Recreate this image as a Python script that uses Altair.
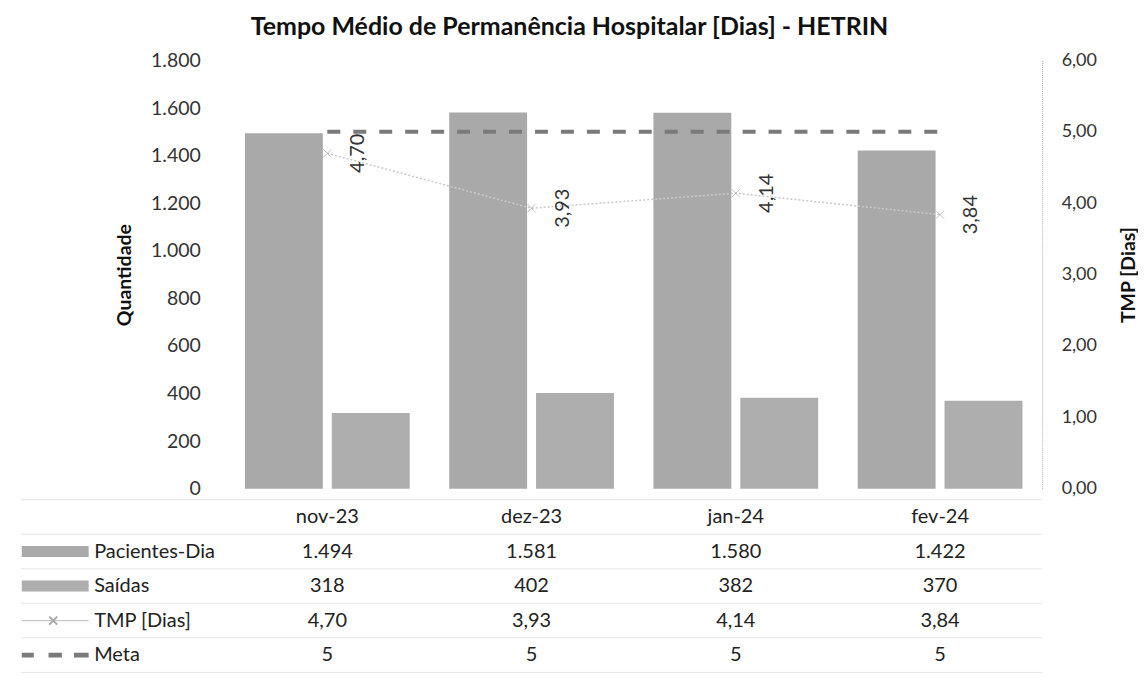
import altair as alt
import pandas as pd

# ---------------- data ----------------
months = ["nov-23", "dez-23", "jan-24", "fev-24"]
pacientes_dia = [1494, 1581, 1580, 1422]
saidas = [318, 402, 382, 370]
tmp = [4.70, 3.93, 4.14, 3.84]
meta = [5, 5, 5, 5]
series = ["Pacientes-Dia", "Saídas"]
row_names = ["Pacientes-Dia", "Saídas", "TMP [Dias]", "Meta"]
left_ticks = [0, 200, 400, 600, 800, 1000, 1200, 1400, 1600, 1800]
right_ticks = [0, 1, 2, 3, 4, 5, 6]

LEG = " "
x_domain = [LEG] + months
rows_domain = ["hdr"] + row_names


def fmt_int(v):
    return f"{v:,}".replace(",", ".")


def fmt_dec(v):
    return f"{v:.2f}".replace(".", ",")


FONT = "Lato"
W, H = 1023, 613
MAIN_H = 429
TABLE_RANGE = [440, 613]

bars_df = pd.DataFrame({
    "month": months * 2,
    "serie": [series[0]] * len(months) + [series[1]] * len(months),
    "valor": pacientes_dia + saidas,
})
line_df = pd.DataFrame({"month": months, "tmp": tmp, "label": [fmt_dec(v) for v in tmp]})
meta_df = pd.DataFrame({"month": months, "meta": meta})

table_rows = []
for i, m in enumerate(months):
    table_rows.append({"month": m, "row": "hdr", "txt": m})
    table_rows.append({"month": m, "row": "Pacientes-Dia", "txt": fmt_int(pacientes_dia[i])})
    table_rows.append({"month": m, "row": "Saídas", "txt": fmt_int(saidas[i])})
    table_rows.append({"month": m, "row": "TMP [Dias]", "txt": fmt_dec(tmp[i])})
    table_rows.append({"month": m, "row": "Meta", "txt": str(meta[i])})
table_df = pd.DataFrame(table_rows)
legend_df = pd.DataFrame({"month": [LEG] * len(row_names), "row": row_names, "txt": row_names})

xs = alt.Scale(type="band", domain=x_domain, paddingInner=0, paddingOuter=0)
X = alt.X("month:N", scale=xs, axis=None)

# ---------------- bars ----------------
bars = alt.Chart(bars_df).mark_bar().encode(
    x=X,
    xOffset=alt.XOffset("serie:N", scale=alt.Scale(domain=series, paddingInner=0.103, paddingOuter=0.227)),
    y=alt.Y("valor:Q",
            scale=alt.Scale(domain=[0, 1800], range=[MAIN_H, 0], nice=False, zero=True),
            axis=alt.Axis(orient="left", offset=-204.6, values=left_ticks,
                          labelExpr="replace(format(datum.value, ','), ',', '.')",
                          title="Quantidade", domain=False, ticks=False, grid=False,
                          labelPadding=25, labelFontSize=19.5, labelFont=FONT, labelColor="#333333",
                          titleFont=FONT, titleFontSize=19.5, titleFontWeight="bold",
                          titleColor="#111111", titlePadding=16)),
    color=alt.Color("serie:N", scale=alt.Scale(domain=series, range=["#a9a9a9", "#aeaeae"]), legend=None),
)

# ---------------- TMP line + meta ----------------
ytmp_scale = alt.Scale(domain=[0, 6], range=[MAIN_H, 0], nice=False)
tmp_axis = alt.Axis(orient="right", values=right_ticks,
                    labelExpr="replace(format(datum.value, '.2f'), '.', ',')",
                    title="TMP [Dias]", titleAngle=270, titleBaseline="top",
                    domain=True, domainColor="#aaaaaa", domainDash=[1, 1], ticks=False, grid=False,
                    labelPadding=19, labelFontSize=18, labelFont=FONT, labelColor="#333333",
                    titleFont=FONT, titleFontSize=19.5, titleFontWeight="bold", titleColor="#111111",
                    titlePadding=23)

meta_line = alt.Chart(meta_df).mark_line(color="#7a7a7a", strokeWidth=4, strokeDash=[13, 13]).encode(
    x=X, y=alt.Y("meta:Q", scale=ytmp_scale, axis=tmp_axis))
tmp_line = alt.Chart(line_df).mark_line(color="#c8c8c8", strokeWidth=1.5, strokeDash=[2, 2]).encode(
    x=X, y=alt.Y("tmp:Q", scale=ytmp_scale))
xmark = "M-1,-1L1,1M-1,1L1,-1"
tmp_pts = alt.Chart(line_df).mark_point(shape=xmark, size=64, color="#a8a8a8", strokeWidth=1, filled=False).encode(
    x=X, y=alt.Y("tmp:Q", scale=ytmp_scale))
tmp_lbl = alt.Chart(line_df).mark_text(angle=270, dy=31, fontSize=20, font=FONT, color="#333333",
                                       align="center", baseline="middle").encode(
    x=X, y=alt.Y("tmp:Q", scale=ytmp_scale), text="label:N")

tmp_layer = alt.layer(meta_line, tmp_line, tmp_pts, tmp_lbl)

# ---------------- data table ----------------
ys_table = alt.Scale(type="band", domain=rows_domain, range=TABLE_RANGE, paddingInner=0, paddingOuter=0)
YT = alt.Y("row:N", scale=ys_table, axis=None)

grid_df = pd.DataFrame({"row": rows_domain})
grid = alt.Chart(grid_df).mark_rule(color="#e6e6e6", strokeWidth=1).encode(
    y=alt.Y("row:N", scale=ys_table, axis=None, bandPosition=0))
grid_bottom = alt.Chart(pd.DataFrame({"row": ["Meta"]})).mark_rule(color="#e6e6e6", strokeWidth=1).encode(
    y=alt.Y("row:N", scale=ys_table, axis=None, bandPosition=1))

table_txt = alt.Chart(table_df).mark_text(fontSize=20, font=FONT, color="#222222").encode(
    x=X, y=YT, text="txt:N")
legend_txt = alt.Chart(legend_df).mark_text(fontSize=20, font=FONT, color="#222222", align="left", dx=-29).encode(
    x=X, y=YT, text="txt:N")

swatch = "M-1,-0.164L1,-0.164L1,0.164L-1,0.164Z"
dashes = "M-1,-0.07L-0.64,-0.07L-0.64,0.07L-1,0.07ZM-0.2,-0.07L0.2,-0.07L0.2,0.07L-0.2,0.07ZM0.56,-0.07L1,-0.07L1,0.07L0.56,0.07Z"
thin = "M-1,-0.02L1,-0.02L1,0.02L-1,0.02Z"

key_pac = alt.Chart(pd.DataFrame({"month": [LEG], "row": ["Pacientes-Dia"]})).mark_point(
    shape=swatch, size=4489, filled=True, color="#a9a9a9", opacity=1, xOffset=-68).encode(x=X, y=YT)
key_sai = alt.Chart(pd.DataFrame({"month": [LEG], "row": ["Saídas"]})).mark_point(
    shape=swatch, size=4489, filled=True, color="#aeaeae", opacity=1, xOffset=-68).encode(x=X, y=YT)
key_tmp = alt.Chart(pd.DataFrame({"month": [LEG], "row": ["TMP [Dias]"]})).mark_point(
    shape=thin, size=4489, filled=True, color="#c8c8c8", opacity=1, xOffset=-68).encode(x=X, y=YT)
key_tmpx = alt.Chart(pd.DataFrame({"month": [LEG], "row": ["TMP [Dias]"]})).mark_point(
    shape=xmark, size=64, filled=False, color="#a8a8a8", opacity=1, xOffset=-70).encode(x=X, y=YT)
key_meta = alt.Chart(pd.DataFrame({"month": [LEG], "row": ["Meta"]})).mark_point(
    shape=dashes, size=4489, filled=True, color="#7a7a7a", opacity=1, xOffset=-68).encode(x=X, y=YT)

table_layer = alt.layer(grid, grid_bottom, table_txt, legend_txt, key_pac, key_sai, key_tmp, key_tmpx, key_meta)

chart = alt.layer(bars, tmp_layer, table_layer).resolve_scale(y="independent").properties(
    width=W, height=H,
    padding={"left": 12, "top": 6, "right": 0, "bottom": 0},
    title=alt.TitleParams("Tempo Médio de Permanência Hospitalar [Dias] - HETRIN",
                          font=FONT, fontSize=25, fontWeight="bold", color="#111111",
                          anchor="middle", dx=38, offset=11),
).configure(background="white").configure_view(stroke=None)

chart.save("out.html", embed_options={"renderer": "svg", "actions": False})
